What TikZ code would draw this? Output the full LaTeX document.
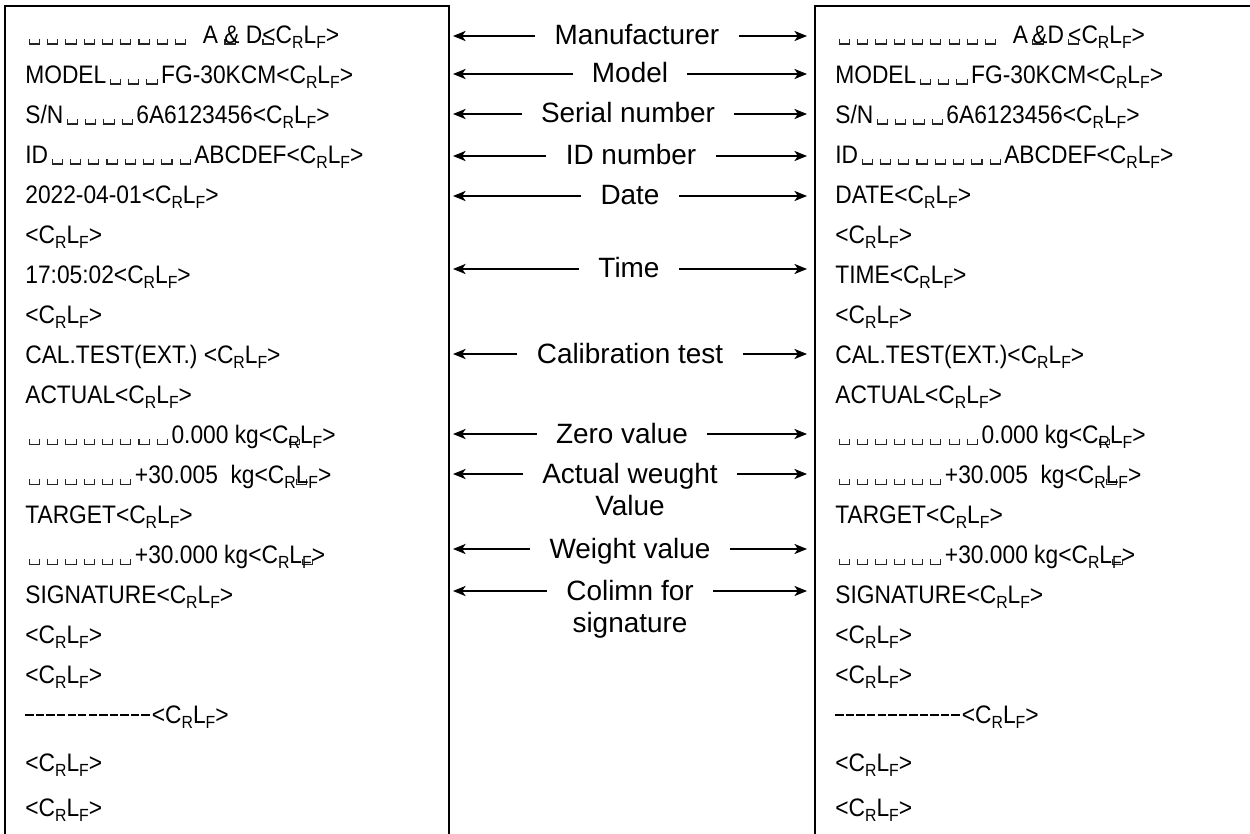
\documentclass[tikz,border=0pt]{standalone}
\usepackage{fontspec}
\setmainfont{Liberation Sans}
\newfontfamily\rowfont[FakeStretch=0.9]{Liberation Sans}
\usepackage{tikz}
\usetikzlibrary{arrows.meta}
\newcommand{\lowsub}[1]{\raisebox{-2.7pt}{\fontsize{10}{11}\selectfont #1}}
\newcommand{\crlf}{<C\lowsub{R}L\lowsub{F}>}
\newcommand{\blankmark}{\hbox to 10.4pt{\hss\color{black!85}\vrule width .6pt height 2.6pt depth .6pt\vrule width 5.2pt height 0pt depth .6pt\vrule width .6pt height 2.6pt depth .6pt\hss}}
\newcommand{\blanks}[1]{\foreach \n in {1,...,#1}{\blankmark}}
\newcommand{\ovmark}{\rlap{\kern-2pt\blankmark}}
\newcommand{\hy}{\rule[4.3pt]{4.8pt}{1.2pt}\kern1.2pt}
\tikzset{
  rowtxt/.style = {anchor=base west, inner sep=0pt, font=\rowfont\fontsize{14.4}{16}\selectfont},
  tag/.style = {anchor=base, inner xsep=0.38cm, inner ysep=0pt, text height=0.36cm, text depth=0pt, font=\fontsize{15.9}{19}\selectfont},
  >={Stealth[length=7.2pt, width=5.8pt, inset=2pt]}
}

\begin{document}
\begin{tikzpicture} [x = 0.02cm, y = -0.02cm]
	\useasboundingbox (0,0) rectangle (1250,834);
	\draw [line width = 1.1pt] (5,834) -- (5,6) -- (449,6) -- (449,834);
	\draw [line width = 1.1pt] (815,834) -- (815,6) -- (1250,6);
	% printout with date and time
	\node [rowtxt] (l1) at (25,43.5) {\blanks{9}\hspace{7.5pt}A\ \ovmark\& D\ovmark<C\lowsub{R}L\lowsub{F}>};
	\node [rowtxt] (l2) at (25,83.5) {MODEL\blanks{3}FG-30KCM\crlf};
	\node [rowtxt] (l3) at (25,123.5) {S/N\blanks{4}6A6123456\crlf};
	\node [rowtxt] (l4) at (25,163.5) {ID\blanks{8}ABCDEF\crlf};
	\node [rowtxt] (l5) at (25,203.5) {2022-04-01\crlf};
	\node [rowtxt] (l6) at (25,243.5) {\crlf};
	\node [rowtxt] (l7) at (25,283.5) {17:05:02\crlf};
	\node [rowtxt] (l8) at (25,323.5) {\crlf};
	\node [rowtxt] (l9) at (25,363.5) {CAL.TEST(EXT.) \crlf};
	\node [rowtxt] (l10) at (25,403.5) {ACTUAL\crlf};
	\node [rowtxt] (l11) at (25,443.5) {\blanks{8}0.000 kg<C\ovmark\lowsub{R}L\lowsub{F}>};
	\node [rowtxt] (l12) at (25,483.5) {\blanks{6}+30.005\ \ kg<C\lowsub{R}\ovmark L\lowsub{F}>};
	\node [rowtxt] (l13) at (25,523.5) {TARGET\crlf};
	\node [rowtxt] (l14) at (25,563.5) {\blanks{6}+30.000 kg<C\lowsub{R}L\ovmark\lowsub{F}>};
	\node [rowtxt] (l15) at (25,603.5) {SIGNATURE\crlf};
	\node [rowtxt] (l16) at (25,643.5) {\crlf};
	\node [rowtxt] (l17) at (25,683.5) {\crlf};
	\node [rowtxt] (l18) at (25,723.5) {\hy\hy\hy\hy\hy\hy\hy\hy\hy\hy\hy\hy\crlf};
	\node [rowtxt] (l19) at (25,771.5) {\crlf};
	\node [rowtxt] (l20) at (25,816.5) {\crlf};
	% printout without date and time
	\node [rowtxt] (r1) at (835,43.5) {\blanks{9}\hspace{7.5pt}A\,\ovmark\&D\,\ovmark<C\lowsub{R}L\lowsub{F}>};
	\node [rowtxt] (r2) at (835,83.5) {MODEL\blanks{3}FG-30KCM\crlf};
	\node [rowtxt] (r3) at (835,123.5) {S/N\blanks{4}6A6123456\crlf};
	\node [rowtxt] (r4) at (835,163.5) {ID\blanks{8}ABCDEF\crlf};
	\node [rowtxt] (r5) at (835,203.5) {DATE\crlf};
	\node [rowtxt] (r6) at (835,243.5) {\crlf};
	\node [rowtxt] (r7) at (835,283.5) {TIME\crlf};
	\node [rowtxt] (r8) at (835,323.5) {\crlf};
	\node [rowtxt] (r9) at (835,363.5) {CAL.TEST(EXT.)\crlf};
	\node [rowtxt] (r10) at (835,403.5) {ACTUAL\crlf};
	\node [rowtxt] (r11) at (835,443.5) {\blanks{8}0.000 kg<C\ovmark\lowsub{R}L\lowsub{F}>};
	\node [rowtxt] (r12) at (835,483.5) {\blanks{6}+30.005\ \ kg<C\lowsub{R}\ovmark L\lowsub{F}>};
	\node [rowtxt] (r13) at (835,523.5) {TARGET\crlf};
	\node [rowtxt] (r14) at (835,563.5) {\blanks{6}+30.000 kg<C\lowsub{R}L\ovmark\lowsub{F}>};
	\node [rowtxt] (r15) at (835,603.5) {SIGNATURE\crlf};
	\node [rowtxt] (r16) at (835,643.5) {\crlf};
	\node [rowtxt] (r17) at (835,683.5) {\crlf};
	\node [rowtxt] (r18) at (835,723.5) {\hy\hy\hy\hy\hy\hy\hy\hy\hy\hy\hy\hy\crlf};
	\node [rowtxt] (r19) at (835,771.5) {\crlf};
	\node [rowtxt] (r20) at (835,816.5) {\crlf};
	% labels in the middle
	\node [tag] (manuf) at (637,45) {Manufacturer};
	\node [tag] (model) at (630,83) {Model};
	\node [tag] (serial) at (628,123) {Serial number};
	\node [tag] (idnum) at (631,165) {ID number};
	\node [tag] (date) at (630,205) {Date};
	\node [tag] (time) at (629,278) {Time};
	\node [tag] (caltest) at (630,363) {Calibration test};
	\node [tag] (zero) at (622,443) {Zero value};
	\node [tag] (actual) at (630,483) {Actual weught};
	\node [tag] (actualb) at (630,515) {Value};
	\node [tag] (weight) at (630,558) {Weight value};
	\node [tag] (sign) at (630,600) {Colimn for};
	\node [tag] (signb) at (630,632) {signature};
	\coordinate (lend) at (453,0);
	\coordinate (rend) at (807,0);
	\draw [line width = 0.7pt, ->] (manuf.west) -- (manuf.west -| lend); \draw [line width = 0.7pt, ->] (manuf.east) -- (manuf.east -| rend);
	\draw [line width = 0.7pt, ->] (model.west) -- (model.west -| lend); \draw [line width = 0.7pt, ->] (model.east) -- (model.east -| rend);
	\draw [line width = 0.7pt, ->] (serial.west) -- (serial.west -| lend); \draw [line width = 0.7pt, ->] (serial.east) -- (serial.east -| rend);
	\draw [line width = 0.7pt, ->] (idnum.west) -- (idnum.west -| lend); \draw [line width = 0.7pt, ->] (idnum.east) -- (idnum.east -| rend);
	\draw [line width = 0.7pt, ->] (date.west) -- (date.west -| lend); \draw [line width = 0.7pt, ->] (date.east) -- (date.east -| rend);
	\draw [line width = 0.7pt, ->] (time.west) -- (time.west -| lend); \draw [line width = 0.7pt, ->] (time.east) -- (time.east -| rend);
	\draw [line width = 0.7pt, ->] (caltest.west) -- (caltest.west -| lend); \draw [line width = 0.7pt, ->] (caltest.east) -- (caltest.east -| rend);
	\draw [line width = 0.7pt, ->] (zero.west) -- (zero.west -| lend); \draw [line width = 0.7pt, ->] (zero.east) -- (zero.east -| rend);
	\draw [line width = 0.7pt, ->] (actual.west) -- (actual.west -| lend); \draw [line width = 0.7pt, ->] (actual.east) -- (actual.east -| rend);
	\draw [line width = 0.7pt, ->] (weight.west) -- (weight.west -| lend); \draw [line width = 0.7pt, ->] (weight.east) -- (weight.east -| rend);
	\draw [line width = 0.7pt, ->] (sign.west) -- (sign.west -| lend); \draw [line width = 0.7pt, ->] (sign.east) -- (sign.east -| rend);
\end{tikzpicture}
\end{document}
